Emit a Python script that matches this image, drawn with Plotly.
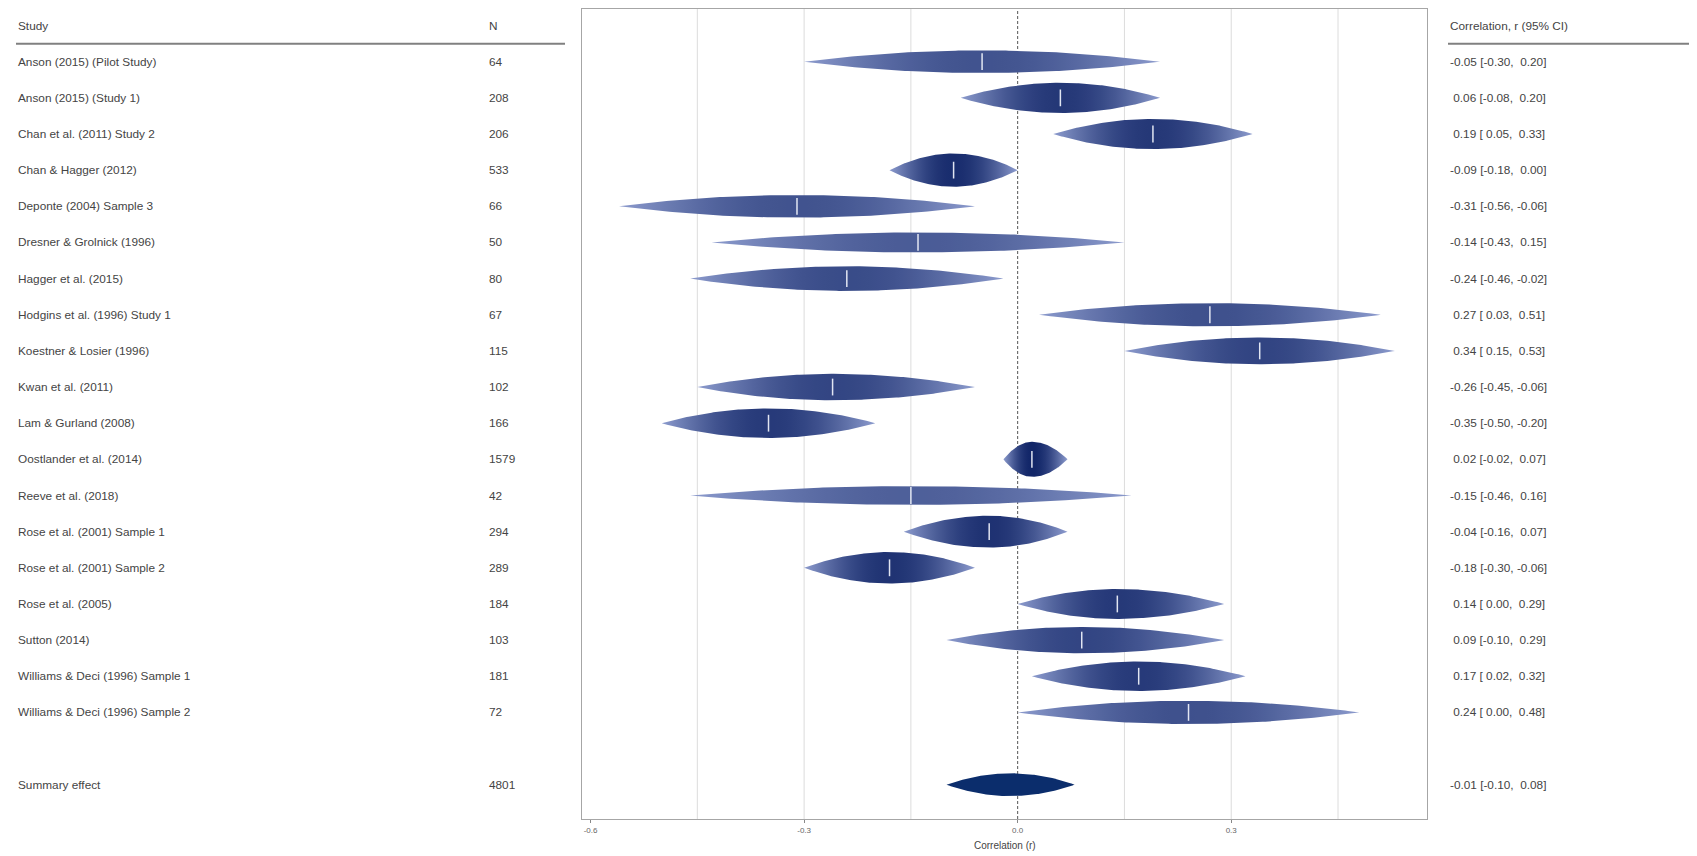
import numpy as np
import plotly.graph_objects as go

# ---------------- data ----------------
studies = [
    "Anson (2015) (Pilot Study)", "Anson (2015) (Study 1)", "Chan et al. (2011) Study 2",
    "Chan & Hagger (2012)", "Deponte (2004) Sample 3", "Dresner & Grolnick (1996)",
    "Hagger et al. (2015)", "Hodgins et al. (1996) Study 1", "Koestner & Losier (1996)",
    "Kwan et al. (2011)", "Lam & Gurland (2008)", "Oostlander et al. (2014)",
    "Reeve et al. (2018)", "Rose et al. (2001) Sample 1", "Rose et al. (2001) Sample 2",
    "Rose et al. (2005)", "Sutton (2014)", "Williams & Deci (1996) Sample 1",
    "Williams & Deci (1996) Sample 2",
]
n_values = [64, 208, 206, 533, 66, 50, 80, 67, 115, 102, 166, 1579, 42, 294, 289, 184, 103, 181, 72]
estimates = [-0.05, 0.06, 0.19, -0.09, -0.31, -0.14, -0.24, 0.27, 0.34, -0.26, -0.35, 0.02,
             -0.15, -0.04, -0.18, 0.14, 0.09, 0.17, 0.24]
ci_lower = [-0.30, -0.08, 0.05, -0.18, -0.56, -0.43, -0.46, 0.03, 0.15, -0.45, -0.50, -0.02,
            -0.46, -0.16, -0.30, 0.00, -0.10, 0.02, 0.00]
ci_upper = [0.20, 0.20, 0.33, 0.00, -0.06, 0.15, -0.02, 0.51, 0.53, -0.06, -0.20, 0.07,
            0.16, 0.07, -0.06, 0.29, 0.29, 0.32, 0.48]

summary_label = "Summary effect"
summary_n = 4801
summary_est = -0.01
summary_lb = -0.10
summary_ub = 0.08

tau2 = 0.028  # between-study variance used for the weights

x_tick_values = [-0.6, -0.3, 0.0, 0.3]
x_tick_labels = ["-0.6", "-0.3", "0.0", "0.3"]
grid_values = [-0.45, -0.3, -0.15, 0.15, 0.3, 0.45]

# ---------------- layout (page pixel positions, page has an 8px body margin) ----------------
PAGE_W, PAGE_H = 1697, 856
OFF = 8
W, H = PAGE_W - OFF, PAGE_H - OFF


def PX(x):
    return (x - OFF) / W


def PY(y):
    return 1 - (y - OFF) / H


FONT = "Liberation Sans, Arial, sans-serif"
TXT = "#444444"
FS = 11.8
X_RANGE = [-0.612, 0.575]
ROW1_Y, ROW_STEP = 61.7, 36.15
PANEL_TOP, PANEL_BOT = 8.5, 819
Y_RANGE = [1 + (PANEL_BOT - ROW1_Y) / ROW_STEP, 1 + (PANEL_TOP - ROW1_Y) / ROW_STEP]
DOM_X = [PX(582), PX(1427)]
DOM_Y = [PY(PANEL_BOT), PY(PANEL_TOP)]
MAX_H = 0.97
C_LIGHT = np.array([140, 155, 205])
C_DARK = np.array([18, 38, 104])


def shape(xs, est, lb, ub):
    hl = max(est - lb, 1e-9)
    hr = max(ub - est, 1e-9)
    u = np.where(xs < est, (xs - est) / hl, (xs - est) / hr)
    return np.clip(1 - u ** 2, 0, 1)


def col(r):
    t = np.clip(r, 0, 1) ** 1.1
    c = C_LIGHT + (C_DARK - C_LIGHT) * t
    return "rgb(%d,%d,%d)" % tuple(np.round(c).astype(int))


fig = go.Figure()

rows = list(range(1, len(studies) + 1))
se = (np.array(ci_upper) - np.array(ci_lower)) / (2 * 1.96)
w = 1.0 / (se ** 2 + tau2)
heights = MAX_H * w / w.max()

for i, (est, lb, ub) in enumerate(zip(estimates, ci_lower, ci_upper)):
    row = rows[i]
    hh = heights[i] / 2
    xs = np.linspace(lb, ub, 121)
    f = shape(xs, est, lb, ub)
    xp = np.concatenate([xs, xs[::-1]])
    yp = np.concatenate([row - hh * f, (row + hh * f)[::-1]])
    ps = np.linspace(0, 1, 41)
    fx = shape(lb + ps * (ub - lb), est, lb, ub)
    cscale = [[float(p), col(heights[i] * fv / MAX_H)] for p, fv in zip(ps, fx)]
    fig.add_trace(go.Scatter(
        x=xp, y=yp, mode="lines", fill="toself", line=dict(width=0),
        fillcolor=col(heights[i] / MAX_H),
        fillgradient=dict(type="horizontal", start=lb, stop=ub, colorscale=cscale),
        hoverinfo="skip", showlegend=False))

# estimate ticks
fig.add_trace(go.Scatter(
    x=estimates, y=rows, mode="markers",
    marker=dict(symbol="line-ns", size=12, line=dict(color="rgba(235,238,248,0.95)", width=1.5)),
    hoverinfo="skip", showlegend=False))

# summary drop
srow = len(studies) + 2
xs = np.linspace(summary_lb, summary_ub, 121)
f = shape(xs, summary_est, summary_lb, summary_ub)
sh = 0.63 / 2
fig.add_trace(go.Scatter(
    x=np.concatenate([xs, xs[::-1]]),
    y=np.concatenate([srow - sh * f, (srow + sh * f)[::-1]]),
    mode="lines", fill="toself", line=dict(width=0), fillcolor="#0b2d6c",
    hoverinfo="skip", showlegend=False))

shapes = []
for g in grid_values:
    shapes.append(dict(type="line", xref="x", yref="paper", x0=g, x1=g, y0=DOM_Y[0], y1=DOM_Y[1],
                       line=dict(color="#dcdcdc", width=1), layer="below"))
shapes.append(dict(type="line", xref="x", yref="paper", x0=0, x1=0, y0=DOM_Y[0], y1=DOM_Y[1],
                   line=dict(color="#555555", width=1, dash="3px,2px"), layer="below"))
# header rules
shapes.append(dict(type="line", xref="paper", yref="y", x0=PX(16), x1=PX(565), y0=0.5, y1=0.5,
                   line=dict(color="#808080", width=2)))
shapes.append(dict(type="line", xref="paper", yref="y", x0=PX(1448), x1=1.0, y0=0.5, y1=0.5,
                   line=dict(color="#808080", width=2)))

ann = []


def t(x, y, s, size=FS, color=TXT):
    ann.append(dict(x=x, y=y, xref="paper", yref="y", text=s, showarrow=False,
                    xanchor="left", yanchor="middle", font=dict(family=FONT, size=size, color=color)))


X_STUDY, X_N, X_CI = PX(16), PX(487), PX(1448)
t(X_STUDY, 0, "Study")
t(X_N, 0, "N")
t(X_CI, 0, "Correlation, r (95% CI)")


def fmt(v):
    return ("%5.2f" % v).replace(" ", "\u00a0")


for i, row in enumerate(rows):
    t(X_STUDY, row, studies[i])
    t(X_N, row, str(n_values[i]))
    t(X_CI, row, "%s [%s, %s]" % (fmt(estimates[i]), fmt(ci_lower[i]), fmt(ci_upper[i])))

t(X_STUDY, srow, summary_label)
t(X_N, srow, str(summary_n))
t(X_CI, srow, "%s [%s, %s]" % (fmt(summary_est), fmt(summary_lb), fmt(summary_ub)))

ann.append(dict(x=(DOM_X[0] + DOM_X[1]) / 2, y=PY(845), xref="paper", yref="paper",
                text="Correlation (r)", showarrow=False, xanchor="center", yanchor="middle",
                font=dict(family=FONT, size=10, color=TXT)))

fig.update_layout(
    width=W, height=H, autosize=False,
    margin=dict(l=0, r=0, t=0, b=0),
    paper_bgcolor="white", plot_bgcolor="white",
    font=dict(family=FONT, color=TXT),
    shapes=shapes, annotations=ann,
    xaxis=dict(domain=DOM_X, range=X_RANGE, tickvals=x_tick_values, ticktext=x_tick_labels,
               ticks="outside", ticklen=3, tickcolor="#888888", tickfont=dict(size=8, color="#666666"),
               showgrid=False, zeroline=False, showline=True, mirror=True, linecolor="#a6a6a6",
               linewidth=1, automargin=False, fixedrange=True),
    yaxis=dict(domain=DOM_Y, range=Y_RANGE, showticklabels=False, ticks="", showgrid=False,
               zeroline=False, showline=True, mirror=True, linecolor="#a6a6a6", linewidth=1,
               automargin=False, fixedrange=True),
)

fig.write_html("out.html")
